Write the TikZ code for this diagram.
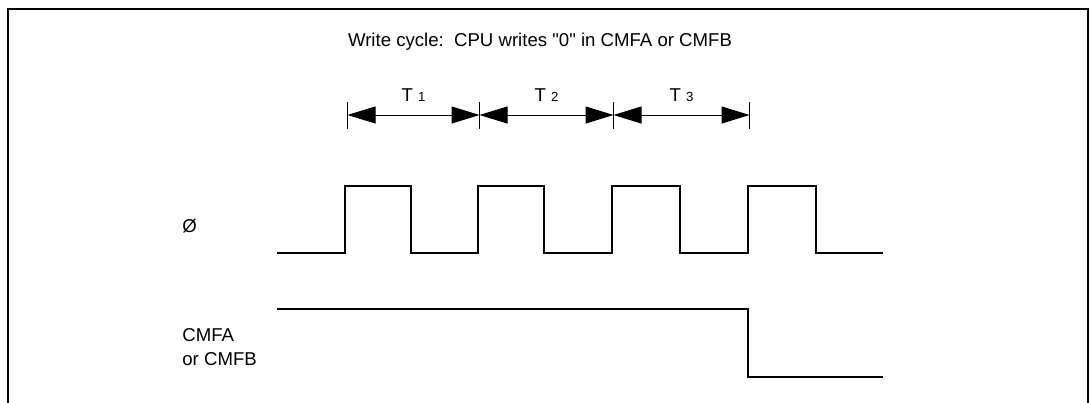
\documentclass[tikz,border=0pt]{standalone}
\usepackage{fontspec}
\setmainfont{Liberation Sans}
\usetikzlibrary{arrows.meta, positioning}

\begin{document}
\begin{tikzpicture}[
  x=0.5pt, y=-0.5pt,
  txt/.style={inner sep=0pt, font=\fontsize{9.3pt}{12pt}\selectfont},
  frame/.style={line width=1pt},
  sig/.style={line width=1pt},
  tickmark/.style={line width=0.75pt},
  dim/.style={{Triangle[length=14pt, width=8.5pt]}-{Triangle[length=14pt, width=8.5pt]}, line width=0.5pt}
]
  \useasboundingbox (0,0) rectangle (1090,402);
  \draw[frame] (8,410) |- (1088,9) -- (1088,410);

  \node[txt, anchor=base] (title) at (540,46.5) {Write cycle:\ \ CPU writes \textquotedbl 0\textquotedbl\ in CMFA or CMFB};
  \node[txt, anchor=base west] (phi) at (182,232) {Ø};
  \node[txt, anchor=west, align=left] (cmf) at (182,347) {CMFA\\or CMFB};

  % state marks
  \coordinate (m0) at (347.5,115);
  \coordinate (m1) at (479.5,115);
  \coordinate (m2) at (613.5,115);
  \coordinate (m3) at (749.5,115);
  \draw[tickmark] (m0) ++(0,-13.5) -- ++(0,27);
  \draw[tickmark] (m1) ++(0,-13.5) -- ++(0,27);
  \draw[tickmark] (m2) ++(0,-13.5) -- ++(0,27);
  \draw[tickmark] (m3) ++(0,-13.5) -- ++(0,27);

  \draw[dim] (m0) -- node[txt, above=6.6pt] (T1) {T\hspace{2.5pt}{\fontsize{6.6pt}{7pt}\selectfont 1}} (m1);
  \draw[dim] (m1) -- node[txt, above=6.6pt] (T2) {T\hspace{2.5pt}{\fontsize{6.6pt}{7pt}\selectfont 2}} (m2);
  \draw[dim] (m2) -- node[txt, above=6.6pt] (T3) {T\hspace{2.5pt}{\fontsize{6.6pt}{7pt}\selectfont 3}} (m3);

  % waveforms
  \draw[sig] (277,253) -| (345,186) -| (411,253) -| (478,186) -| (544,253)
    -| (612,186) -| (680,253) -| (748,186) -| (816,253) -- (883,253);
  \draw[sig] (277,309) -| (748,377) -- (883,377);
\end{tikzpicture}
\end{document}
